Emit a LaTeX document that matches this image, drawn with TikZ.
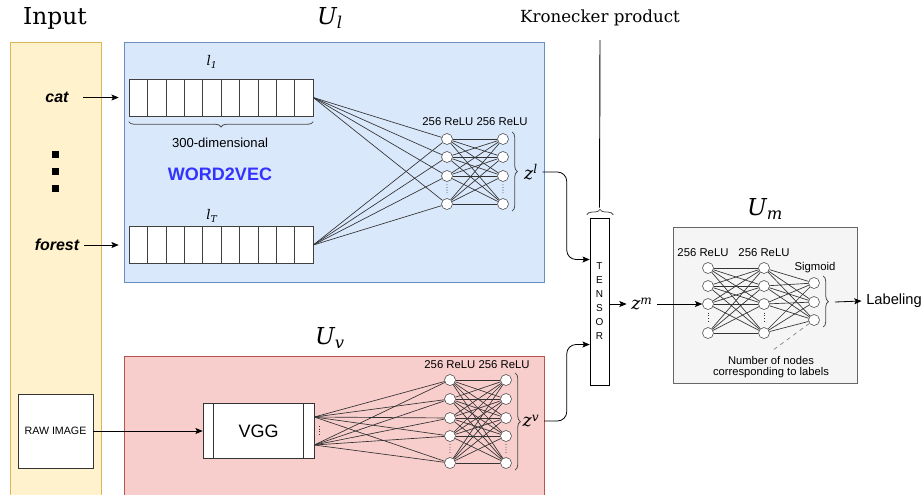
\documentclass[tikz,border=0pt]{standalone}
\usepackage{fontspec}
\setmainfont{Liberation Sans}
\newfontfamily\djserif{DejaVu Serif}
\usepackage{tikz}
\usetikzlibrary{arrows.meta,decorations.pathreplacing,calc,positioning}
\usepackage{xcolor}
\definecolor{infill}{HTML}{FFF2CC}
\definecolor{inline}{HTML}{D6B656}
\definecolor{ulfill}{HTML}{DAE8FC}
\definecolor{ulline}{HTML}{6C8EBF}
\definecolor{uvfill}{HTML}{F8CECC}
\definecolor{uvline}{HTML}{B85450}
\definecolor{umfill}{HTML}{F5F5F5}
\definecolor{umline}{HTML}{666666}
\definecolor{wvblue}{HTML}{3333FF}
\newcommand{\pxunit}{0.75pt}
\newcommand{\fsz}[2]{\fontsize{#1}{#2}\selectfont}
\newcommand{\mvar}[1]{{\djserif\itshape #1}}
\tikzset{
    insty/.style={draw=inline,fill=infill},
    ulsty/.style={draw=ulline,fill=ulfill},
    uvsty/.style={draw=uvline,fill=uvfill},
    umsty/.style={draw=umline,fill=umfill},
    titlesty/.style={font=\djserif\fsz{17.5}{20}},
    msty/.style={font=\fsz{13}{15}},
    cellsty/.style={draw=black!75,fill=white,rectangle,inner sep=0pt,minimum width=18.4*\pxunit,minimum height=37*\pxunit},
    neusty/.style={draw=black!75,fill=white,circle,inner sep=0pt,minimum size=11*\pxunit},
    edgesty/.style={draw=black!80,line width=0.5pt},
    lblsty/.style={font=\fsz{8.5}{10}},
    bracesty/.style={decorate,decoration={brace,amplitude=4pt},draw=black!70,line width=0.6pt},
    arrsty/.style={->,draw=black,line width=0.6pt},
    dotsty/.style={draw=black!80,dash pattern=on 0.6pt off 1.4pt,line width=0.7pt},
    sqsty/.style={fill=black,rectangle,inner sep=0pt,minimum size=7*\pxunit},
    boxsty/.style={draw=black!80,fill=white,rectangle,inner sep=0pt},
    wordsty/.style={font=\bfseries\itshape\fsz{12}{14}},
}

\begin{document}
\begin{tikzpicture}[x=\pxunit,y=-\pxunit,>={Stealth[length=5.5pt,width=4.5pt,inset=1.2pt]}]
  \clip (0,0) rectangle (923,494);

  % input column
  \draw[insty] (10,42) rectangle (101,520);
  \node[titlesty] (intitle) at (55,18) {Input};
  \node[wordsty] (cat) at (57,97.5) {cat};
  \node[wordsty] (forest) at (57,245) {forest};
  \foreach \y [count=\i] in {154,171,188}
    \node[sqsty] (sq-\i) at (55,\y) {};
  \node[boxsty,minimum width=75*\pxunit,minimum height=74*\pxunit,font=\fsz{8}{10}] (raw) at (55.5,431) {RAW IMAGE};

  % word branch
  \draw[ulsty] (124,42) rectangle (544,282);
  \node[titlesty] (ultitle) at (330,18) {\mvar{U\textsubscript{l}}};
  \foreach \i in {1,...,10} {
    \node[cellsty] (wa-\i) at (129+18.4*\i-9.2,97.5) {};
    \node[cellsty] (wb-\i) at (129+18.4*\i-9.2,245) {};
  }
  \draw[arrsty,shorten <=7.5pt,shorten >=7.5pt] (cat) -- (wa-1);
  \draw[arrsty,shorten >=7.5pt] (forest) -- (wb-1);
  \node[font=\fsz{10}{12}] (la) at (212,62) {\mvar{l\textsubscript{1}}};
  \node[font=\fsz{10}{12}] (lb) at (212,216) {\mvar{l\textsubscript{T}}};
  \draw[bracesty,decoration={raise=4pt}] (wa-10.south east) -- (wa-1.south west);
  \node[font=\fsz{9.8}{12}] (dim) at (220,143) {300-dimensional};
  \node[font=\bfseries\fsz{13.5}{16},text=wvblue] (w2v) at (220,174) {WORD2VEC};

  \foreach \y [count=\i] in {139,157,176,204} {
    \node[neusty] (ua-\i) at (447,\y) {};
    \node[neusty] (ub-\i) at (503,\y) {};
  }
  \draw[dotsty] ($(ua-3)!0.3!(ua-4)$) -- ($(ua-3)!0.62!(ua-4)$);
  \draw[dotsty] ($(ub-3)!0.3!(ub-4)$) -- ($(ub-3)!0.62!(ub-4)$);
  \foreach \i in {1,...,4} {
    \draw[edgesty] (wa-10.east) -- (ua-\i);
    \draw[edgesty] (wb-10.east) -- (ua-\i);
    \foreach \j in {1,...,4}
      \draw[edgesty] (ua-\i) -- (ub-\j);
  }
  \node[lblsty] (ulrelu) at (475,122) {256 ReLU 256 ReLU};
  \draw[bracesty] ($(ub-1.north east)+(5,-3)$) -- ($(ub-4.south east)+(5,3)$);
  \node[msty] (zl) at (531,172) {\mvar{z\textsuperscript{l}}};

  % image branch
  \draw[uvsty] (124,356) rectangle (544,520);
  \node[titlesty] (uvtitle) at (330,338) {\mvar{U\textsubscript{v}}};
  \node[boxsty,minimum width=111*\pxunit,minimum height=55*\pxunit,font=\fsz{13.5}{16}] (vgg) at (258.5,431) {VGG};
  \draw[black!80] ($(vgg.north west)+(11,0)$) -- ($(vgg.south west)+(11,0)$);
  \draw[black!80] ($(vgg.north east)+(-11,0)$) -- ($(vgg.south east)+(-11,0)$);
  \coordinate (vo-1) at ($(vgg.east)+(0,-14)$);
  \coordinate (vo-2) at ($(vgg.east)+(0,14)$);
  \draw[dotsty] ($(vo-1)+(5,9)$) -- ($(vo-2)+(5,-9)$);
  \draw[arrsty] (raw.east) -- (vgg.west);

  \foreach \y [count=\i] in {380,399,418,436,463} {
    \node[neusty] (va-\i) at (450,\y) {};
    \node[neusty] (vb-\i) at (506,\y) {};
  }
  \draw[dotsty] ($(va-4)!0.3!(va-5)$) -- ($(va-4)!0.62!(va-5)$);
  \draw[dotsty] ($(vb-4)!0.3!(vb-5)$) -- ($(vb-4)!0.62!(vb-5)$);
  \foreach \i in {1,...,5} {
    \draw[edgesty] (vo-1) -- (va-\i);
    \draw[edgesty] (vo-2) -- (va-\i);
    \foreach \j in {1,...,5}
      \draw[edgesty] (va-\i) -- (vb-\j);
  }
  \node[lblsty] (uvrelu) at (477,365) {256 ReLU 256 ReLU};
  \draw[bracesty] ($(vb-1.north east)+(5,-3)$) -- ($(vb-5.south east)+(5,3)$);
  \node[msty] (zv) at (531,421) {\mvar{z\textsuperscript{v}}};

  % fusion
  \node[boxsty,draw=black,minimum width=19*\pxunit,minimum height=167*\pxunit,align=center,font=\fsz{7.5}{10.5}] (tensor) at (599.5,301.5) {T\\E\\N\\S\\O\\R};
  \draw[bracesty] ($(tensor.north west)+(-3,-3)$) -- ($(tensor.north east)+(4,-3)$);
  \node[font=\djserif\fsz{12.5}{15}] (kron) at (600,18) {Kronecker product};
  \coordinate (kron-tip) at (600,40);
  \draw[black,line width=0.7pt] (kron-tip) -- ($(tensor.north)+(0,-10)$);

  \coordinate (tin-l) at ($(tensor.west)+(0,-42)$);
  \coordinate (tin-v) at ($(tensor.west)+(0,43)$);
  \draw[arrsty,rounded corners=7pt] (zl.east) -| ($(tin-l)+(-23,0)$) -- (tin-l);
  \draw[arrsty,rounded corners=7pt] (zv.east) -| ($(tin-v)+(-23,0)$) -- (tin-v);

  \node[msty] (zm) at (642,304) {\mvar{z\textsuperscript{m}}};
  \draw[arrsty] (tensor.east |- zm.west) -- (zm.west);

  % multimodal head
  \draw[umsty] (673,227) rectangle (857,383);
  \node[titlesty] (umtitle) at (765,209) {\mvar{U\textsubscript{m}}};
  \foreach \y [count=\i] in {268,286,304,333} {
    \node[neusty] (ma-\i) at (708,\y) {};
    \node[neusty] (mb-\i) at (764,\y) {};
  }
  \draw[dotsty] ($(ma-3)!0.3!(ma-4)$) -- ($(ma-3)!0.62!(ma-4)$);
  \draw[dotsty] ($(mb-3)!0.3!(mb-4)$) -- ($(mb-3)!0.62!(mb-4)$);
  \foreach \y [count=\i] in {283,302,320}
    \node[neusty] (mc-\i) at (814,\y) {};
  \foreach \i in {1,...,4} {
    \foreach \j in {1,...,4}
      \draw[edgesty] (ma-\i) -- (mb-\j);
    \foreach \j in {1,...,3}
      \draw[edgesty] (mb-\i) -- (mc-\j);
  }
  \draw[arrsty] (zm.east) -- (ma-3.west);
  \node[lblsty] (marelu) at (703,253) {256 ReLU};
  \node[lblsty] (mbrelu) at (764,253) {256 ReLU};
  \node[lblsty] (sigm) at (815,268) {Sigmoid};
  \draw[bracesty] ($(mc-1.north east)+(5,-3)$) -- ($(mc-3.south east)+(5,3)$);
  \coordinate (sgm-out) at ($(mc-2.east)+(15,0)$);
  \node[font=\fsz{11}{13}] (labeling) at (894,301) {Labeling};
  \draw[arrsty] (sgm-out) -- (labeling.west);
  \node[align=center,font=\fsz{8.4}{8.3}] (nnote) at (771,367) {Number of nodes\\corresponding to labels};
  \draw[dashed,gray,line width=0.5pt] (mc-3) -- (nnote.north);
\end{tikzpicture}
\end{document}
